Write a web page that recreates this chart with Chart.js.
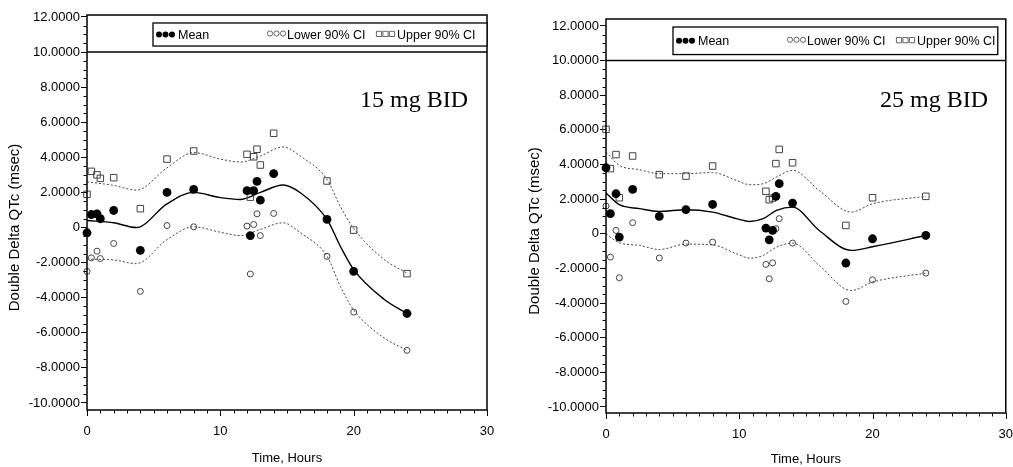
<!DOCTYPE html>
<html><head><meta charset="utf-8">
<script src="https://cdn.jsdelivr.net/npm/chart.js@4.4.1/dist/chart.umd.min.js"></script>
<style>
html,body{margin:0;padding:0;background:#fff;}
#wrap{position:relative;width:1013px;height:467px;overflow:hidden;background:#fff;}
canvas{position:absolute;top:0;}
</style></head><body>
<div id="wrap">
<canvas id="c1" width="505" height="467" style="left:0px"></canvas>
<canvas id="c2" width="508" height="467" style="left:505px"></canvas>
</div>
<script>
// ---------- data ----------
const sampleTimes = [0, 0.33, 0.75, 1, 2, 4, 6, 8, 12, 12.25, 12.5, 12.75, 13, 14, 18, 20, 24];

const mean15  = [-0.3, 0.74, 0.78, 0.5, 0.97, -1.3, 2.0, 2.17, 2.1, -0.46, 2.1, 2.63, 1.56, 3.07, 0.46, -2.5, -4.9];
const lower15 = [-2.5, -1.73, -1.35, -1.77, -0.91, -3.64, 0.11, 0.04, 0.08, -2.65, 0.17, 0.78, -0.46, 0.8, -1.64, -4.82, -7.0];
const upper15 = [1.89, 3.2, 3.0, 2.8, 2.84, 1.07, 3.9, 4.36, 4.17, 1.73, 4.03, 4.46, 3.56, 5.37, 2.65, -0.15, -2.63];

const mean25  = [3.81, 1.16, 2.31, -0.19, 2.56, 1.0, 1.39, 1.69, 0.33, -0.35, 0.19, 2.16, 2.89, 1.77, -1.69, -0.29, -0.1];
const lower25 = [1.6, -1.35, 0.19, -2.54, 0.64, -1.4, -0.54, -0.48, -1.77, -2.6, -1.68, 0.29, 0.87, -0.54, -3.91, -2.66, -2.27];
const upper25 = [6.03, 3.76, 4.57, 2.08, 4.49, 3.41, 3.33, 3.91, 2.45, 1.97, 2.06, 4.05, 4.87, 4.1, 0.48, 2.08, 2.16];

// smoothed fit curves, read at selected times
const curveTimes15 = [0, 2, 3.7, 6, 8, 10, 11.5, 13, 14.7, 16, 18, 19, 20, 22.3, 24];
const curveMean15  = [0.4, 0.27, 0.0, 1.35, 2.0, 1.7, 1.6, 2.0, 2.42, 1.98, 0.46, -1.07, -2.4, -4.1, -4.9];
const curveUpper15 = [2.6, 2.4, 2.13, 3.4, 4.27, 3.9, 3.73, 4.07, 4.59, 4.07, 2.74, 1.2, -0.05, -1.83, -2.6];
const curveLower15 = [-1.8, -1.85, -2.06, -0.69, 0.04, -0.27, -0.46, -0.11, 0.27, -0.3, -1.64, -3.35, -4.7, -6.3, -7.0];

const curveTimes25 = [0, 1, 2.5, 4, 6, 8, 9.8, 10.8, 11.8, 12.8, 14, 16, 18.4, 20, 24];
const curveMean25  = [2.35, 1.68, 1.45, 1.29, 1.39, 1.25, 0.87, 0.71, 0.87, 1.35, 1.54, 0.19, -0.96, -0.75, -0.1];
const curveUpper25 = [4.72, 3.95, 3.7, 3.47, 3.47, 3.53, 3.08, 2.83, 2.89, 3.28, 3.66, 2.5, 1.25, 1.73, 2.16];
const curveLower25 = [0.0, -0.52, -0.67, -0.91, -0.6, -0.64, -1.16, -1.41, -1.25, -0.77, -0.54, -1.83, -3.28, -2.79, -2.27];

const yTickValues = [-10, -8, -6, -4, -2, 0, 2, 4, 6, 8, 10, 12];
const xTickValues = [0, 10, 20, 30];
const seriesLabels = ['Mean', 'Lower 90% CI', 'Upper 90% CI'];
const panelTitles = ['15 mg BID', '25 mg BID'];
const yAxisTitle = 'Double Delta QTc (msec)';
const xAxisTitle = 'Time, Hours';
const referenceLineValue = 10;

// ---------- chart building ----------
const SANS = '"Liberation Sans", Arial, sans-serif';
const SERIF = '"Liberation Serif", "Times New Roman", serif';

function pts(xs, ys) { return ys.map((v, i) => ({ x: xs[i], y: v })); }

function decorPlugin(p) {
  return {
    id: 'decor',
    afterDraw(chart) {
      const ctx = chart.ctx, ca = chart.chartArea;
      const xs = chart.scales.x, ys = chart.scales.y;
      ctx.save();
      ctx.strokeStyle = '#000';
      ctx.fillStyle = '#000';
      // minor and major ticks on the x axis, minor ticks on the y axis
      ctx.lineWidth = 1;
      ctx.beginPath();
      for (let t = 0; t <= 30; t += 1) {
        const len = (t % 10 === 0) ? 6 : 3.5;
        const px = Math.round(xs.getPixelForValue(t)) + 0.5;
        ctx.moveTo(px, ca.bottom); ctx.lineTo(px, ca.bottom + len);
      }
      for (let k = -20; k <= 24; k++) {
        const v = k / 2;
        if (v % 2 === 0) continue;
        const py = Math.round(ys.getPixelForValue(v)) + 0.5;
        ctx.moveTo(ca.left, py); ctx.lineTo(ca.left - 3.5, py);
      }
      ctx.stroke();
      // frame
      ctx.lineWidth = 1.5;
      ctx.strokeRect(ca.left, ca.top, ca.right - ca.left, ca.bottom - ca.top);
      // reference line
      const y10 = ys.getPixelForValue(referenceLineValue);
      ctx.beginPath(); ctx.moveTo(ca.left, y10); ctx.lineTo(ca.right, y10); ctx.stroke();
      // legend box
      const bl = ca.left + p.legLeft, br = ca.right - p.legRightInset;
      const bt = ca.top + 8, bb = y10 - 6;
      ctx.fillStyle = '#fff';
      ctx.fillRect(bl, bt, br - bl, bb - bt);
      ctx.lineWidth = 1.3;
      ctx.strokeRect(bl, bt, br - bl, bb - bt);
      const cy = (bt + bb) / 2;
      ctx.font = '12.5px ' + SANS;
      ctx.textBaseline = 'middle';
      ctx.textAlign = 'left';
      ctx.fillStyle = '#000';
      const symOff = [3, 114, 223], txtOff = [25, 134, 244];
      for (let s = 0; s < 3; s++) {
        for (let j = 0; j < 3; j++) {
          const sx = bl + symOff[s] + 3 + j * 6.5;
          ctx.beginPath();
          if (s === 0) {
            ctx.arc(sx, cy, 3, 0, Math.PI * 2); ctx.fillStyle = '#000'; ctx.fill();
          } else if (s === 1) {
            ctx.arc(sx, cy - 1, 2.6, 0, Math.PI * 2); ctx.strokeStyle = '#555'; ctx.lineWidth = 0.9; ctx.stroke();
          } else {
            ctx.rect(sx - 2.6, cy - 3.2, 5.2, 5.2); ctx.strokeStyle = '#555'; ctx.lineWidth = 0.9; ctx.stroke();
          }
        }
        ctx.fillStyle = '#000';
        ctx.fillText(seriesLabels[s], bl + txtOff[s], cy + 1);
      }
      // panel title
      ctx.font = '24px ' + SERIF;
      ctx.textBaseline = 'alphabetic';
      ctx.fillText(p.title, ca.left + p.titleDx, ca.top + p.titleDy);
      // y axis title
      ctx.save();
      ctx.translate(ca.left - p.yTitleDx, (ca.top + ca.bottom) / 2 + 15);
      ctx.rotate(-Math.PI / 2);
      ctx.font = '15px ' + SANS;
      ctx.textAlign = 'center';
      ctx.textBaseline = 'middle';
      ctx.fillText(yAxisTitle, 0, 0);
      ctx.restore();
      ctx.restore();
    }
  };
}

function makeChart(id, p) {
  const scatterBase = { showLine: false, clip: false };
  const curveBase = { showLine: true, pointRadius: 0, pointHoverRadius: 0, cubicInterpolationMode: 'monotone', fill: false };
  return new Chart(document.getElementById(id), {
    type: 'scatter',
    data: {
      datasets: [
        Object.assign({ label: seriesLabels[0], data: pts(sampleTimes, p.mean), pointStyle: 'circle', pointRadius: 4.4,
          backgroundColor: '#000', borderColor: '#000', borderWidth: 0 }, scatterBase),
        Object.assign({ label: seriesLabels[1], data: pts(sampleTimes, p.lower), pointStyle: 'circle', pointRadius: 3,
          backgroundColor: 'rgba(255,255,255,0)', borderColor: '#444', borderWidth: 1 }, scatterBase),
        Object.assign({ label: seriesLabels[2], data: pts(sampleTimes, p.upper), pointStyle: 'rect', pointRadius: 4.6,
          backgroundColor: 'rgba(255,255,255,0)', borderColor: '#444', borderWidth: 1 }, scatterBase),
        Object.assign({ label: 'fit mean', data: pts(p.ct, p.cm), borderColor: '#000', borderWidth: 1.4 }, curveBase),
        Object.assign({ label: 'fit lower', data: pts(p.ct, p.cl), borderColor: '#444', borderWidth: 1, borderDash: [2, 2] }, curveBase),
        Object.assign({ label: 'fit upper', data: pts(p.ct, p.cu), borderColor: '#444', borderWidth: 1, borderDash: [2, 2] }, curveBase)
      ]
    },
    options: {
      responsive: false,
      animation: false,
      events: [],
      layout: { padding: { left: 0, top: p.padTop, right: p.padRight, bottom: 0 } },
      plugins: { legend: { display: false }, tooltip: { enabled: false } },
      scales: {
        x: {
          type: 'linear', position: 'bottom', min: 0, max: 30,
          afterBuildTicks: s => { s.ticks = xTickValues.map(v => ({ value: v })); },
          afterFit: s => { s.height = p.xH; },
          ticks: { font: { family: SANS, size: 13 }, color: '#000', padding: 0, maxRotation: 0, autoSkip: false,
            callback: v => String(v) },
          grid: { drawOnChartArea: false, drawTicks: true, tickLength: p.xLabelGap, tickColor: 'rgba(0,0,0,0)', lineWidth: 1 },
          border: { display: false },
          title: { display: true, text: xAxisTitle, font: { family: SANS, size: 13 }, color: '#000',
            padding: { top: 0, bottom: p.xTitlePad } }
        },
        y: {
          type: 'linear', position: 'left', min: p.ymin, max: p.ymax,
          afterBuildTicks: s => { s.ticks = yTickValues.map(v => ({ value: v })); },
          afterFit: s => { s.width = p.yW; },
          ticks: { font: { family: SANS, size: 13 }, color: '#000', padding: 1, autoSkip: false,
            callback: v => (v === 0 ? '0' : v.toFixed(4)) },
          grid: { drawOnChartArea: false, drawTicks: true, tickLength: 6, color: '#000', lineWidth: 1 },
          border: { display: false }
        }
      }
    },
    plugins: [decorPlugin(p)]
  });
}

makeChart('c1', {
  mean: mean15, lower: lower15, upper: upper15,
  ct: curveTimes15, cm: curveMean15, cl: curveLower15, cu: curveUpper15,
  ymin: -10.4, ymax: 12.11, padTop: 15, padRight: 18, xH: 57, yW: 87, xTitlePad: 1, xLabelGap: 14,
  legLeft: 66, legRightInset: 0, title: panelTitles[0], titleDx: 273, titleDy: 92, yTitleDx: 72
});
makeChart('c2', {
  mean: mean25, lower: lower25, upper: upper25,
  ct: curveTimes25, cm: curveMean25, cl: curveLower25, cu: curveUpper25,
  ymin: -10.35, ymax: 12.4, padTop: 19, padRight: 7, xH: 54, yW: 101, xTitlePad: 0, xLabelGap: 14,
  legLeft: 67, legRightInset: 8, title: panelTitles[1], titleDx: 274, titleDy: 88, yTitleDx: 71
});
</script>
</body></html>
